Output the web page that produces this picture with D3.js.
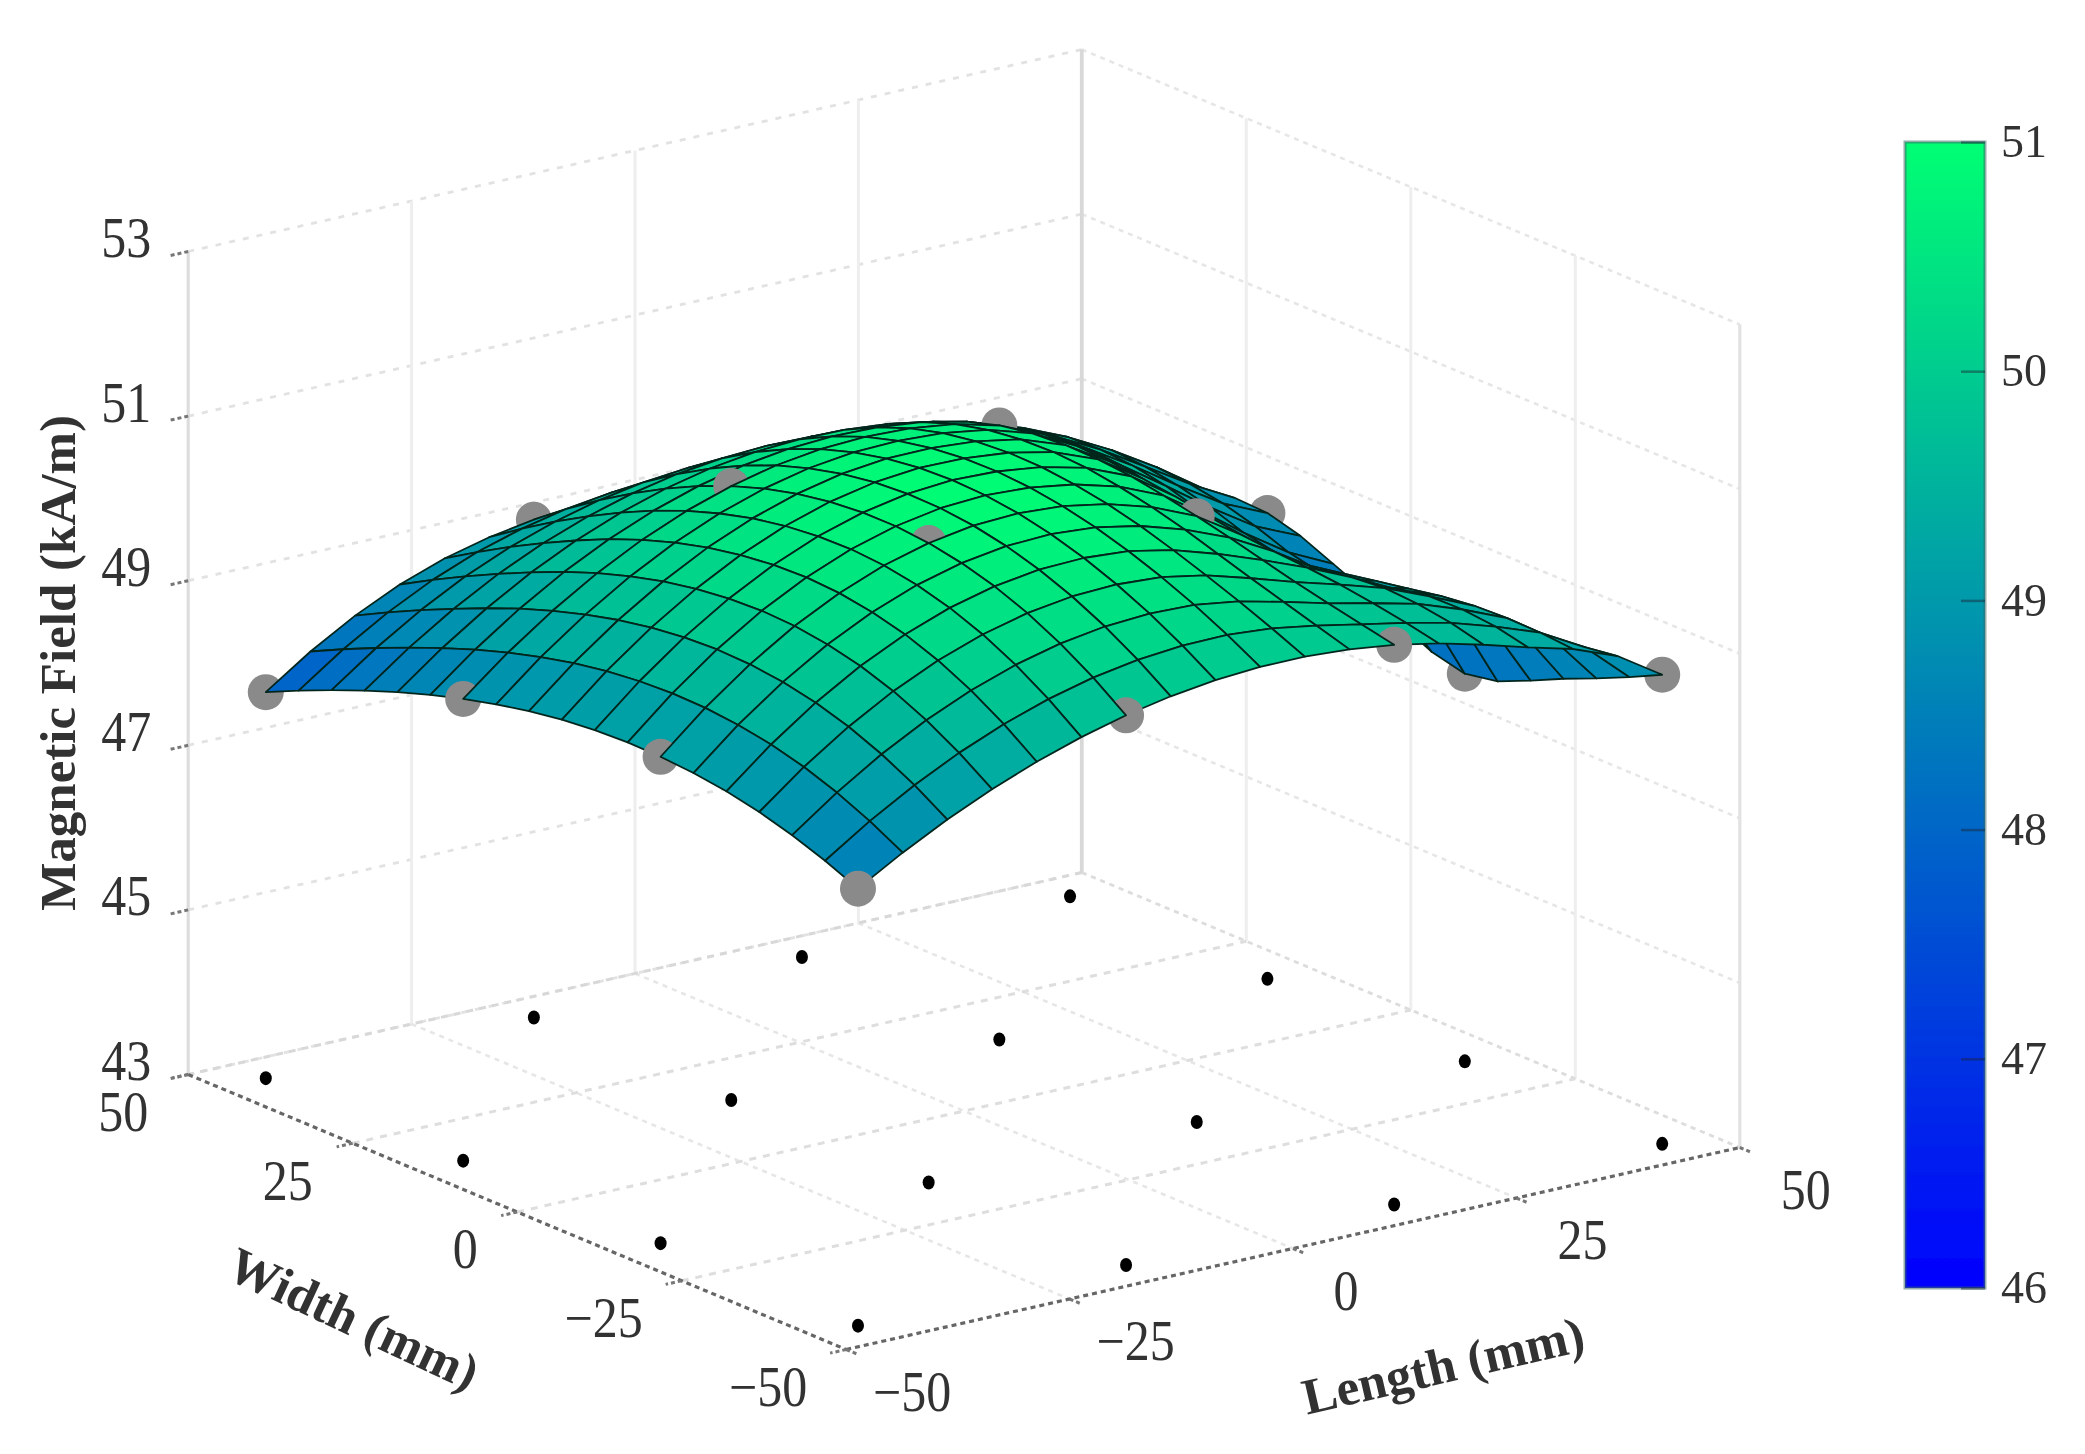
<!DOCTYPE html>
<html>
<head>
<meta charset="utf-8">
<style>
  html, body { margin: 0; background: #fff; }
  text { font-family: "Liberation Serif", serif; fill: #333; }
</style>
<script src="https://cdn.jsdelivr.net/npm/d3@7"></script>
</head>
<body>
<svg id="chart" width="2085" height="1454"></svg>
<script>
// axis ticks
const lengthTicks = [-50, -25, 0, 25, 50];
const widthTicks = [-50, -25, 0, 25, 50];
const fieldTicks = [43, 45, 47, 49, 51, 53];
const colorbarTicks = [46, 47, 48, 49, 50, 51];

// probe positions (mm)
const probeLength = [-45, -15, 15, 45];
const probeWidth = [45, 15, -15, -45];

// field read off the gray markers (kA/m), one list per length, in probeWidth order
// the 2 hidden markers (first entry of the last two lists) are estimates
const probeAtLengthA = [47.69, 48.61, 48.91, 48.31];
const probeAtLengthB = [49.05, 50.46, 50.77, 49.68];
const probeAtLengthC = [48.83, 50.46, 50.36, 49.80];
const probeAtLengthD = [48.10, 48.66, 47.71, 48.70];
const probeRows = [probeAtLengthA, probeAtLengthB, probeAtLengthC, probeAtLengthD];

// surface height at coarse nodes, the 5 mm mesh is smoothed between them
const nodeLength = [-45, -30, -15, 0, 15, 30, 40, 45];
const nodeWidth = [45, 30, 15, 0, -15, -30, -45];
const surfaceAtM45 = [47.69, 48.21, 48.61, 48.86, 48.91, 48.74, 48.31];
const surfaceAtM30 = [48.63, 49.26, 49.77, 50.08, 50.13, 49.84, 49.15];
const surfaceAtM15 = [49.05, 49.87, 50.46, 50.77, 50.77, 50.42, 49.68];
const surfaceAt0 = [49.07, 50.08, 50.69, 50.93, 50.85, 50.49, 49.90];
const surfaceAtP15 = [48.83, 49.94, 50.46, 50.55, 50.36, 50.06, 49.80];
const surfaceAtP30 = [48.46, 49.50, 49.60, 49.30, 49.22, 49.52, 49.40];
const surfaceAtP40 = [48.21, 48.95, 48.90, 48.55, 48.72, 48.88, 49.05];
const surfaceAtP45 = [48.10, 48.55, 48.66, 48.20, 47.71, 48.15, 48.70];
const surfaceRows = [surfaceAtM45, surfaceAtM30, surfaceAtM15, surfaceAt0, surfaceAtP15, surfaceAtP30, surfaceAtP40, surfaceAtP45];

const svg = d3.select("#chart");

// oblique projection, each data axis gets its own screen scales
const originX = 964, originY = 1111;
const lengthX = d3.scaleLinear().domain([-50, 50]).range([-446.8, 446.8]);
const lengthY = d3.scaleLinear().domain([-50, 50]).range([101, -101]);
const widthX = d3.scaleLinear().domain([-50, 50]).range([329, -329]);
const widthY = d3.scaleLinear().domain([-50, 50]).range([137.5, -137.5]);
const fieldY = d3.scaleLinear().domain([43, 53]).range([0, -823]);

const project = (len, wid, field) => [
    originX + lengthX(len) + widthX(wid),
    originY + lengthY(len) + widthY(wid) + fieldY(field)
];

// how close a point is to the camera, used to paint facets and markers in order
const nearness = (len, wid, field) => -6.25 * len - 8.52 * wid + 26.6 * field;
const markerBias = 8;

const colorScale = d3.scaleLinear()
    .domain([46, 51])
    .range(["rgb(0,0,255)", "rgb(0,255,115)"])
    .clamp(true);

const line = d3.line();

const drawLine = (group, from, to, color, width, dash) => {
    group.append("path")
        .attr("d", line([from, to]))
        .attr("fill", "none")
        .attr("stroke", color)
        .attr("stroke-width", width)
        .attr("stroke-dasharray", dash || null);
};

const defs = svg.append("defs");
// the reference is a soft upscaled scan
defs.append("filter")
    .attr("id", "soft")
    .attr("x", 0).attr("y", 0).attr("width", 1).attr("height", 1)
    .attr("filterUnits", "objectBoundingBox")
    .append("feGaussianBlur")
    .attr("stdDeviation", 0.7);

const root = svg.append("g").attr("filter", "url(#soft)");
root.append("rect").attr("width", 2085).attr("height", 1454).attr("fill", "#fff");

// walls and floor
const walls = root.append("g");
fieldTicks.forEach(f => {
    drawLine(walls, project(-50, 50, f), project(50, 50, f), "#e2e2e2", 2.8, "6 8");
    drawLine(walls, project(50, 50, f), project(50, -50, f), "#e6e6e6", 2.6, "5 5");
});
lengthTicks.forEach(l => {
    if (l === -50 || l === 50) return;
    drawLine(walls, project(l, 50, 43), project(l, 50, 53), "#eeeeee", 3);
    drawLine(walls, project(l, 50, 43), project(l, -50, 43), "#e6e6e6", 2.6, "5 5");
});
widthTicks.forEach(w => {
    if (w === -50 || w === 50) return;
    drawLine(walls, project(50, w, 43), project(50, w, 53), "#eeeeee", 3);
    drawLine(walls, project(-50, w, 43), project(50, w, 43), "#dedede", 3, "7 7");
});
drawLine(walls, project(-50, 50, 43), project(-50, 50, 53), "#dddddd", 3.2);
drawLine(walls, project(50, 50, 43), project(50, 50, 53), "#d8d8d8", 3.8);
drawLine(walls, project(50, -50, 43), project(50, -50, 53), "#e2e2e2", 3.2);
drawLine(walls, project(50, 50, 43), project(-50, 50, 43), "#d8d8d8", 3, "7 6");
drawLine(walls, project(50, 50, 43), project(50, -50, 43), "#dddddd", 2.6, "5 5");

// front edges and ticks
const axes = root.append("g");
drawLine(axes, project(-50, 50, 43), project(-50, -50, 43), "#666", 3.2, "5 4");
drawLine(axes, project(-50, -50, 43), project(50, -50, 43), "#666", 3.2, "5 4");
widthTicks.forEach(w => {
    drawLine(axes, project(-50, w, 43), project(-51.8, w, 43), "#777", 3, "4 3");
});
lengthTicks.forEach(l => {
    drawLine(axes, project(l, -50, 43), project(l, -51.8, 43), "#777", 3, "4 3");
});
fieldTicks.forEach(f => {
    drawLine(axes, project(-50, 50, f), project(-52, 50, f), "#777", 3, "4 3");
});

// probe positions on the floor
const floorDots = root.append("g");
probeLength.forEach(l => {
    probeWidth.forEach(w => {
        const [fx, fy] = project(l, w, 43);
        floorDots.append("ellipse")
            .attr("cx", fx).attr("cy", fy)
            .attr("rx", 6).attr("ry", 7)
            .attr("fill", "#000");
    });
});

// smooth curve through unevenly spaced nodes (xs ascending)
const smooth = (xs, ys, x) => {
    const n = xs.length;
    // derivative at xs[at] of the parabola through nodes a, b, c
    const parabola = (a, b, c, at) => {
        const d1 = (ys[b] - ys[a]) / (xs[b] - xs[a]);
        const d2 = (ys[c] - ys[b]) / (xs[c] - xs[b]);
        const dd = (d2 - d1) / (xs[c] - xs[a]);
        return d1 + dd * ((xs[at] - xs[a]) + (xs[at] - xs[b]));
    };
    const slope = i => {
        if (i === 0) return parabola(0, 1, 2, 0);
        if (i === n - 1) return parabola(n - 3, n - 2, n - 1, n - 1);
        return parabola(i - 1, i, i + 1, i);
    };
    const i = Math.min(d3.bisectRight(xs, x) - 1, n - 2);
    const h = xs[i + 1] - xs[i];
    const t = (x - xs[i]) / h;
    return (2 * t * t * t - 3 * t * t + 1) * ys[i]
        + (t * t * t - 2 * t * t + t) * h * slope(i)
        + (-2 * t * t * t + 3 * t * t) * ys[i + 1]
        + (t * t * t - t * t) * h * slope(i + 1);
};

const nodeWidthUp = nodeWidth.slice().reverse();
const surfaceHeight = (len, wid) => {
    const across = surfaceRows.map(row => smooth(nodeWidthUp, row.slice().reverse(), wid));
    return smooth(nodeLength, across, len);
};

const meshLength = d3.range(-45, 46, 5);
const meshWidth = d3.range(-45, 46, 5);

// markers and facets share one painter's list, markers sit inside the surface
const paintList = [];
probeLength.forEach((l, i) => {
    probeWidth.forEach((w, j) => {
        const f = probeRows[i][j];
        paintList.push({ kind: "marker", depth: nearness(l, w, f) - markerBias, pos: project(l, w, f) });
    });
});
d3.range(meshLength.length - 1).forEach(i => {
    d3.range(meshWidth.length - 1).forEach(j => {
        const corners = [
            [meshLength[i], meshWidth[j]],
            [meshLength[i + 1], meshWidth[j]],
            [meshLength[i + 1], meshWidth[j + 1]],
            [meshLength[i], meshWidth[j + 1]]
        ];
        const heights = corners.map(c => surfaceHeight(c[0], c[1]));
        paintList.push({
            kind: "facet",
            depth: nearness(d3.mean(corners, c => c[0]), d3.mean(corners, c => c[1]), d3.mean(heights)),
            path: line(corners.map((c, k) => project(c[0], c[1], heights[k]))) + "Z",
            color: colorScale(d3.mean(heights))
        });
    });
});
paintList.sort((a, b) => a.depth - b.depth);

const surface = root.append("g");
paintList.forEach(item => {
    if (item.kind === "marker") {
        surface.append("circle")
            .attr("cx", item.pos[0]).attr("cy", item.pos[1])
            .attr("r", 18)
            .attr("fill", "#8a8a8a");
    } else {
        surface.append("path")
            .attr("d", item.path)
            .attr("fill", item.color)
            .attr("stroke", "#06261f")
            .attr("stroke-width", 1.8)
            .attr("stroke-linejoin", "round");
    }
});

// tick labels
const fmt = d3.format("d");
const labels = root.append("g").attr("font-size", 50);

const putLabel = (x, y, anchor, value) => {
    labels.append("text")
        .attr("transform", `translate(${x},${y}) scale(1,1.12)`)
        .attr("dy", "0.33em")
        .attr("text-anchor", anchor)
        .text(fmt(value));
};

fieldTicks.forEach(f => {
    const [x, y] = project(-50, 50, f);
    putLabel(x - 37, y - 13, "end", f);
});
widthTicks.forEach(w => {
    const [x, y] = project(-50, w, 43);
    putLabel(x + (w > 0 ? -65 : w === 0 ? -52 : -78), y + 38, "middle", w);
});
lengthTicks.forEach(l => {
    const [x, y] = project(l, -50, 43);
    putLabel(x + (l === 0 ? 53 : 66), y + 43, "middle", l);
});

// axis titles
const titles = root.append("g").attr("font-size", 51).attr("font-weight", "bold");
titles.append("text")
    .attr("transform", "translate(57,663) rotate(-90)")
    .attr("dy", "0.35em")
    .attr("text-anchor", "middle")
    .text("Magnetic Field (kA/m)");
titles.append("text")
    .attr("transform", "translate(354,1318) rotate(25)")
    .attr("dy", "0.35em")
    .attr("text-anchor", "middle")
    .text("Width (mm)");
titles.append("text")
    .attr("transform", "translate(1443,1365) rotate(-13)")
    .attr("dy", "0.35em")
    .attr("text-anchor", "middle")
    .text("Length (mm)");

// colorbar
const barX = 1905, barW = 80;
const barScale = d3.scaleLinear().domain([46, 51]).range([1288, 142]);

const grad = defs.append("linearGradient")
    .attr("id", "barGradient")
    .attr("x1", 0).attr("x2", 0).attr("y1", 1).attr("y2", 0);
colorbarTicks.forEach(t => {
    grad.append("stop")
        .attr("offset", (t - 46) / 5)
        .attr("stop-color", colorScale(t));
});

const bar = root.append("g");
bar.append("rect")
    .attr("x", barX).attr("y", barScale(51))
    .attr("width", barW).attr("height", barScale(46) - barScale(51))
    .attr("fill", "url(#barGradient)")
    .attr("stroke", "#3a6a66")
    .attr("stroke-opacity", 0.55)
    .attr("stroke-width", 3);

const barAxis = bar.append("g")
    .attr("transform", `translate(${barX + barW},0)`)
    .call(d3.axisRight(barScale).tickValues(colorbarTicks).tickSize(-24).tickPadding(16).tickFormat(fmt));
barAxis.select(".domain").remove();
barAxis.selectAll("line").attr("stroke", "#123").attr("stroke-opacity", 0.45).attr("stroke-width", 2.5);
barAxis.selectAll("text")
    .attr("font-size", 46)
    .attr("font-family", "Liberation Serif, serif")
    .attr("fill", "#333");
</script>
</body>
</html>
